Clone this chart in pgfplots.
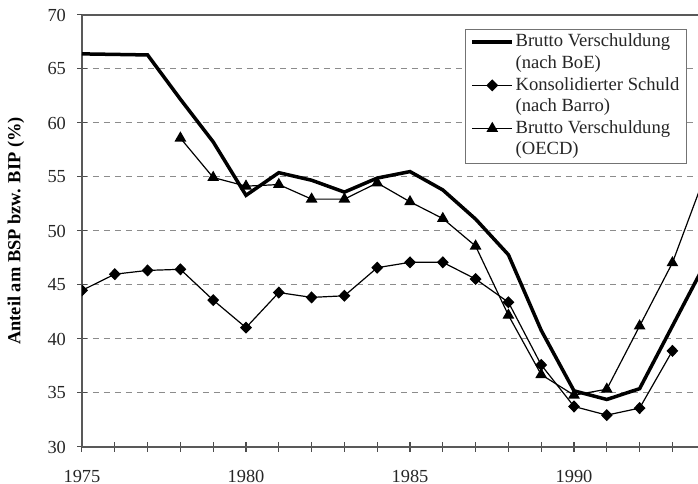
\documentclass[border=0pt]{standalone}
\usepackage{fontspec}
\setmainfont{Liberation Serif}
\usepackage{pgfplots}
\pgfplotsset{compat=1.18}
\begin{document}
\begin{tikzpicture}
\begin{axis}[
  scale only axis, width=308pt, height=216pt,
  xmin=1975, xmax=1993.78, ymin=30, ymax=70,
  axis x line=box, axis y line=left,
  x axis line style={-, draw=black!65, line width=0.7pt},
  y axis line style={-, draw=black!65, line width=0.7pt},
  xtick={1975,1980,1985,1990}, minor xtick={1976,...,1993},
  ytick={30,35,...,70},
  xtick pos=left, ytick pos=left,
  tick align=center,
  major tick length=5pt, minor tick length=5pt,
  tick style={draw=black!70, line width=0.5pt},
  ymajorgrids,
  major grid style={draw=black!45, line width=0.5pt, dash pattern=on 3pt off 2.5pt},
  /pgf/number format/1000 sep={},
  /pgf/number format/assume math mode=true,
  ticklabel style={font=\fontsize{9.2}{10}\selectfont, text=black!85},
  xticklabel style={inner ysep=0.4pt, yshift=-8.5pt},
  yticklabel style={xshift=-2pt},
  ylabel={Anteil am BSP bzw. BIP (\%)},
  every axis y label/.style={at={([xshift=-33pt]rel axis cs:0,0.5)}, rotate=90, anchor=center, font=\bfseries\fontsize{9.2}{11}\selectfont},
  clip marker paths=true,
  legend style={at={(rel axis cs:0.622,0.9676)}, anchor=north west, draw=black!55, line width=0.4pt,
    inner xsep=2.5pt, inner ysep=1pt, row sep=0pt,
    nodes={text height=7pt, text depth=2.2pt, inner ysep=0.8pt, inner xsep=0.8pt},
    font=\fontsize{9.3}{10.8}\selectfont, text=black!85},
  legend cell align=left,
  legend image code/.code={\draw[mark repeat=2,mark phase=2,#1] plot coordinates {(0pt,0pt) (10pt,0pt) (20pt,0pt)};},
]
\addplot[black, line width=1.75pt, no markers] coordinates {
(1975,66.4) (1976,66.35) (1977,66.3) (1978,62.2) (1979,58.25) (1980,53.3)
(1981,55.4) (1982,54.7) (1983,53.6) (1984,54.9) (1985,55.5) (1986,53.8)
(1987,51.1) (1988,47.8) (1989,40.8) (1990,35.2) (1991,34.4) (1992,35.4)
(1993,41.2) (1994,47.0)};
\addlegendentry{Brutto Verschuldung}
\addlegendimage{empty legend}
\addlegendentry{(nach BoE)}
\addplot[black, line width=0.6pt, mark=diamond*, mark size=2.6pt, mark options={solid, xscale=1.3}] coordinates {
(1975,44.5) (1976,46.0) (1977,46.35) (1978,46.45) (1979,43.6) (1980,41.05)
(1981,44.3) (1982,43.85) (1983,44.0) (1984,46.6) (1985,47.1) (1986,47.1)
(1987,45.55) (1988,43.4) (1989,37.6) (1990,33.75) (1991,32.95) (1992,33.6)
(1993,38.9)};
\addlegendentry{Konsolidierter Schuld}
\addlegendimage{empty legend}
\addlegendentry{(nach Barro)}
\addplot[black, line width=0.6pt, mark=triangle*, mark size=2.8pt, mark options={solid}] coordinates {
(1978,58.6) (1979,54.95) (1980,54.15) (1981,54.3) (1982,52.95) (1983,52.95)
(1984,54.45) (1985,52.7) (1986,51.15) (1987,48.6) (1988,42.2) (1989,36.7)
(1990,34.8) (1991,35.35) (1992,41.2) (1993,47.05) (1994,55.2)};
\addlegendentry{Brutto Verschuldung}
\addlegendimage{empty legend}
\addlegendentry{(OECD)}
\coordinate (ll) at (rel axis cs:0,0);
\coordinate (ur) at (rel axis cs:1,1);
\end{axis}
\pgfresetboundingbox
\path[use as bounding box] ([shift={(-41pt,-18.5pt)}]ll) rectangle ([shift={(0pt,7.5pt)}]ur);
\end{tikzpicture}
\end{document}
